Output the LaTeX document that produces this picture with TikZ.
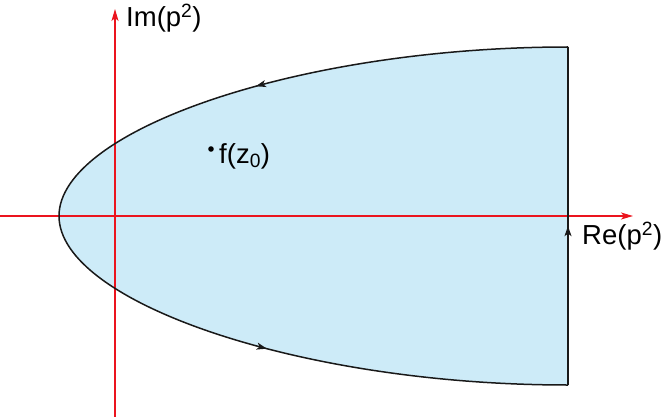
\documentclass[tikz,border=0pt]{standalone}
\usepackage{fontspec}
\setmainfont{Liberation Sans}
\usetikzlibrary{arrows.meta,decorations.markings}
\definecolor{regionblue}{RGB}{205,235,248}
\definecolor{axisred}{RGB}{235,20,30}
\begin{document}
\begin{tikzpicture}[x=1pt,y=-1pt,
  axisline/.style={draw=axisred,line width=1.3pt,-{Stealth[length=12pt,width=7pt,inset=3pt]}},
  boundary/.style={draw=black!90,line width=1.5pt},
  midarrow/.style={postaction={decorate},decoration={markings,mark=at position #1 with {\arrow{Stealth[length=10pt,width=7pt,inset=2.5pt]}}}},
  lbl/.style={font=\fontsize{27.5}{32}\selectfont,inner sep=0pt}]
\useasboundingbox (0,0) rectangle (664,417);
% region fill
\fill[regionblue] (568,47) .. controls (300,47) and (59,130) .. (59,216)
  .. controls (59,302) and (300,385) .. (568,385) -- cycle;
% axes
\coordinate (xs) at (0,216);
\coordinate (xe) at (633,216);
\coordinate (ys) at (115,417);
\coordinate (ye) at (115,9);
\draw[axisline] (xs) -- (xe);
\draw[axisline] (ys) -- (ye);
% boundary
\coordinate (tr) at (568,47);
\coordinate (v) at (59,216);
\coordinate (br) at (568,385);
\draw[boundary,midarrow=0.56] (tr) .. controls (300,47) and (59,130) .. (v);
\draw[boundary,midarrow=0.46] (v) .. controls (59,302) and (300,385) .. (br);
\draw[boundary,midarrow=0.47] (br) -- (tr);
% labels
\node[lbl,anchor=west] (im) at (126,18) {Im(p\textsuperscript{2})};
\node[lbl,anchor=west] (re) at (582,236) {Re(p\textsuperscript{2})};
\fill (211,149) circle (2.8pt);
\node[lbl,anchor=west] (fz) at (219,156) {f(z\textsubscript{0})};
\end{tikzpicture}
\end{document}
